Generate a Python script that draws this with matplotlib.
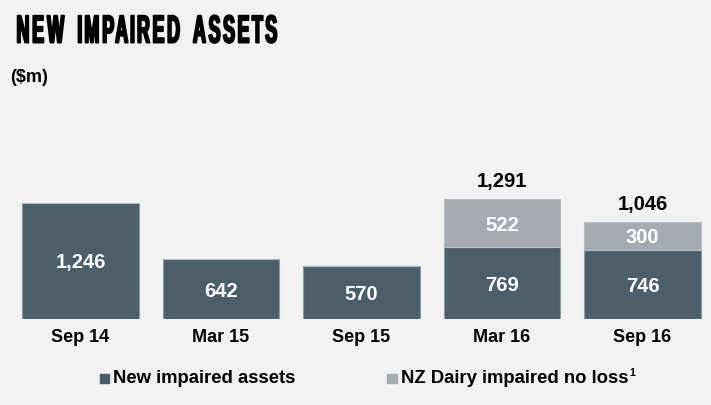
import matplotlib
matplotlib.use('Agg')
import numpy as np
from matplotlib import pyplot as plt
from matplotlib import patheffects
from matplotlib.patches import Rectangle
from matplotlib.path import Path

periods = ['Sep 14', 'Mar 15', 'Sep 15', 'Mar 16', 'Sep 16']
new_impaired = [1246, 642, 570, 769, 746]
nz_dairy = [0, 0, 0, 522, 300]
totals = [None, None, None, 1291, 1046]

dark = '#4b5f6b'
light = '#a5acb1'
bg = '#f2f2f2'

plt.rcParams['font.family'] = ['Liberation Sans', 'DejaVu Sans']


class Condense(patheffects.AbstractPathEffect):
    # narrows each glyph but keeps some tracking, a stand-in for a condensed face
    def __init__(self, width_px, glyph_scale, lw, word_px=0):
        super().__init__()
        self.width_px = width_px
        self.gs = glyph_scale
        self.lw = lw
        self.word_px = word_px

    def draw_path(self, renderer, gc, tpath, affine, rgbFace=None):
        verts = np.asarray(tpath.vertices, float).copy()
        codes = np.asarray(tpath.codes)
        starts = list(np.flatnonzero(codes == Path.MOVETO)) + [len(codes)]
        contours = []
        for a, b in zip(starts[:-1], starts[1:]):
            v = verts[a:b]
            contours.append([a, b, v[:, 0].min(), v[:, 0].max(), v[:, 1].min(), v[:, 1].max()])
        # group inner contours (counters) with their outer glyph outline
        order = sorted(range(len(contours)),
                       key=lambda i: -(contours[i][3] - contours[i][2]) * (contours[i][5] - contours[i][4]))
        groups = []
        for i in order:
            c = contours[i]
            for g in groups:
                o = g['box']
                if c[2] >= o[0] - 1e-6 and c[3] <= o[1] + 1e-6 and c[4] >= o[2] - 1e-6 and c[5] <= o[3] + 1e-6:
                    g['items'].append(i)
                    break
            else:
                groups.append({'box': c[2:6], 'items': [i]})
        groups.sort(key=lambda g: g['box'][0])
        k = abs(affine.get_matrix()[0, 0])
        target = self.width_px / k
        cap = max(g['box'][3] - g['box'][2] for g in groups)
        # count word breaks so they can get a little extra room
        breaks = [0]
        for g0, g1 in zip(groups[:-1], groups[1:]):
            breaks.append(breaks[-1] + (1 if g1['box'][0] - g0['box'][1] > 0.3 * cap else 0))
        ws = self.word_px / k
        first, last = groups[0]['box'], groups[-1]['box']
        cf = (first[0] + first[1]) / 2
        cl = (last[0] + last[1]) / 2
        half = self.gs * ((first[1] - first[0]) + (last[1] - last[0])) / 2
        sp = (target - half - breaks[-1] * ws) / (cl - cf) if cl > cf else 1
        left = first[0]
        for g, nb in zip(groups, breaks):
            gc_x = (g['box'][0] + g['box'][1]) / 2
            new_c = left + self.gs * (first[1] - first[0]) / 2 + (gc_x - cf) * sp + nb * ws
            for i in g['items']:
                a, b = contours[i][0], contours[i][1]
                verts[a:b, 0] = new_c + (verts[a:b, 0] - gc_x) * self.gs
        gc0 = renderer.new_gc()
        gc0.copy_properties(gc)
        gc0.set_linewidth(self.lw)
        gc0.set_foreground(rgbFace)
        renderer.draw_path(gc0, Path(verts, codes), affine, rgbFace)
        gc0.restore()


W, H = 711, 405
fig = plt.figure(figsize=(W / 100, H / 100), dpi=100)
fig.patch.set_facecolor(bg)

top_px, bot_px = 150, 319
ppu = 0.0931  # pixels per $m
ax = fig.add_axes([0, (H - bot_px) / H, 1, (bot_px - top_px) / H])
ax.set_facecolor(bg)
pitch, c0 = 140.5, 80.5
ax.set_xlim(-c0 / pitch, (W - c0) / pitch)
ax.set_ylim(0, (bot_px - top_px) / ppu)
for s in ax.spines.values():
    s.set_visible(False)
ax.set_xticks([])
ax.set_yticks([])

x = list(range(len(periods)))
ax.bar(x, new_impaired, width=0.83, color=dark, edgecolor='#8d999f', linewidth=0.8)
ax.bar(x, nz_dairy, bottom=new_impaired, width=0.83, color=light, edgecolor='#b8bdc1', linewidth=0.8)

for i in x:
    ax.text(i, new_impaired[i] / 2, f'{new_impaired[i]:,}', ha='center', va='center_baseline',
            color='white', fontsize=14.5, fontweight='bold')
    if nz_dairy[i]:
        ax.text(i, new_impaired[i] + nz_dairy[i] / 2, f'{nz_dairy[i]:,}', ha='center',
                va='center_baseline', color='white', fontsize=14.5, fontweight='bold')
    if totals[i]:
        ax.text(i, new_impaired[i] + nz_dairy[i] + 12 / ppu, f'{totals[i]:,}', ha='center',
                va='baseline', color='black', fontsize=14.5, fontweight='bold')
    ax.text(i, -23 / ppu, periods[i], ha='center', va='baseline', color='black',
            fontsize=13, fontweight='bold')

title = fig.text(16.5 / W, 1 - 42.5 / H, 'NEW IMPAIRED ASSETS', fontsize=28, fontweight='bold',
                 va='baseline', ha='left')
title.set_path_effects([Condense(260, 0.46, 1.4, word_px=5)])

fig.text(10 / W, 1 - 82 / H, '($m)', fontsize=13, fontweight='bold', va='baseline')

# legend
ly = 1 - 383 / H
fig.patches.append(Rectangle((100 / W, 1 - 383 / H), 9 / W, 9.5 / H, color=dark,
                             transform=fig.transFigure, figure=fig))
fig.text(113 / W, ly, 'New impaired assets', fontsize=13.3, fontweight='bold', va='baseline')
fig.patches.append(Rectangle((387 / W, 1 - 383 / H), 9.5 / W, 9.5 / H, color=light,
                             transform=fig.transFigure, figure=fig))
leg2 = fig.text(401 / W, ly, 'NZ Dairy impaired no loss', fontsize=13.3, fontweight='bold',
                va='baseline')
fig.canvas.draw()
e = leg2.get_window_extent()
fig.text((e.x1 + 0.5) / W, 1 - 375.5 / H, '1', fontsize=7.5, fontweight='bold', va='baseline')

fig.savefig('out.png', dpi=100, facecolor=bg)
